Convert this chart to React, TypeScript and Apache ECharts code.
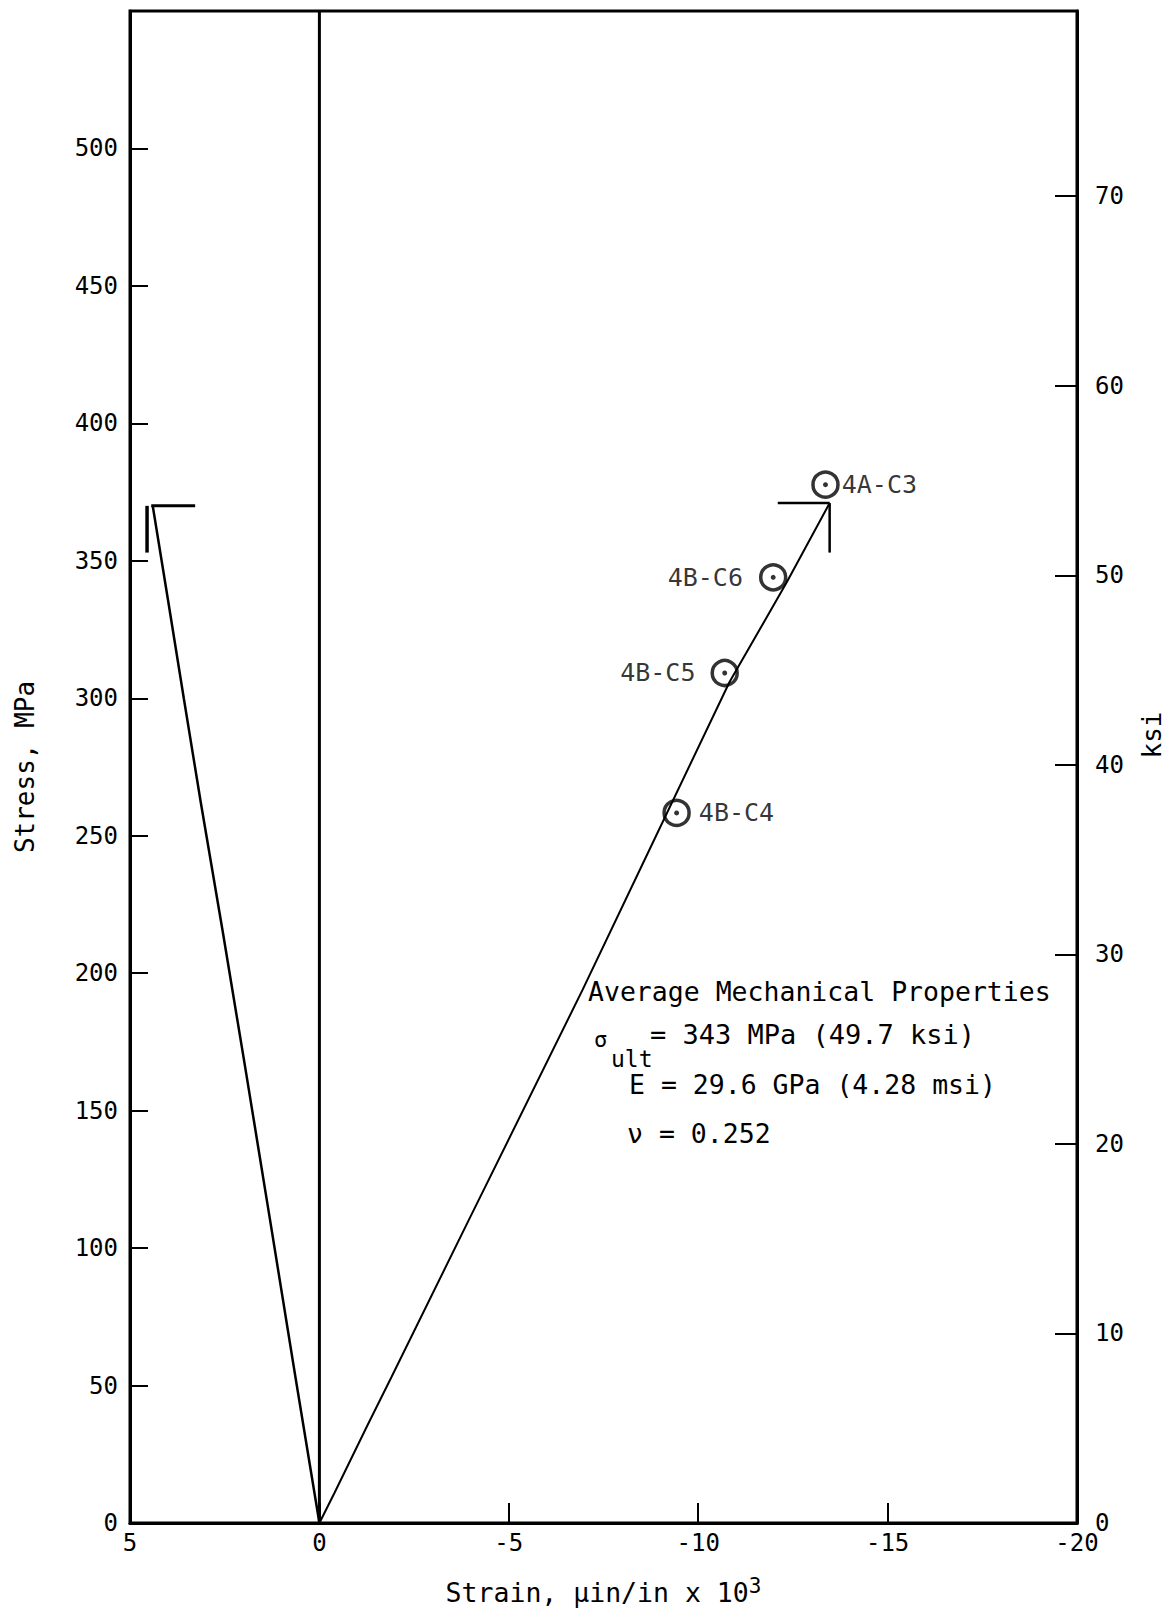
import React, { useEffect, useRef } from "react";
import * as echarts from "echarts";

const FONT = "'DejaVu Sans Mono', monospace";
const MPA_PER_KSI = 6.894757;

// axis ranges
const strainMin = -20;
const strainMax = 5;
const stressMin = 0;
const stressMax = 550;

// transverse strain curve (positive strain)
const transverseStrain = [0, 0.62, 1.3, 1.95, 2.55, 3.13, 3.58, 4.0, 4.4];
const transverseStress = [0, 52, 110, 165, 215, 262, 300, 336, 370];

// longitudinal strain curve (negative strain)
const longitudinalStrain = [0, -0.4, -1.25, -1.9, -3.9, -6.95, -8.75, -10.83, -12.33, -13.47];
const longitudinalStress = [0, 11, 35, 53, 109, 194, 246, 306, 342, 371];

// failure brackets
const leftBracketH = [[4.44, 370], [3.28, 370]];
const leftBracketV = [[4.55, 370], [4.55, 353]];
const rightBracketH = [[-12.1, 371], [-13.47, 371]];
const rightBracketV = [[-13.47, 371], [-13.47, 353]];

// zero-strain reference line
const zeroLine = [[0, stressMin], [0, stressMax]];

// specimen failure points
const specimenNames = ["4A-C3", "4B-C6", "4B-C5", "4B-C4"];
const specimenStrain = [-13.36, -11.98, -10.7, -9.43];
const specimenStress = [377.7, 344, 309.2, 258.3];
const specimenLabelSide = ["right", "left", "left", "right"];
const specimenLabelGap = [2, 16, 15, 8];

function pairs(xs: number[], ys: number[]) {
  return xs.map((x, i) => [x, ys[i]]);
}

export default function App() {
  const ref = useRef<HTMLDivElement>(null);
  useEffect(() => {
    document.body.style.margin = "0";
    const chart = echarts.init(ref.current!, null, { renderer: "svg" });
    const black = "#000";
    const lineSeries = (data: number[][], width: number) => ({
      type: "line",
      data,
      symbol: "none",
      silent: true,
      lineStyle: { color: black, width },
      z: 3,
    });
    const option: any = {
      animation: false,
      backgroundColor: "#fff",
      textStyle: { fontFamily: FONT, color: black },
      grid: {
        left: 130,
        right: 91,
        top: 11,
        bottom: 88,
        show: true,
        borderColor: black,
        borderWidth: 3,
        backgroundColor: "transparent",
      },
      xAxis: {
        type: "value",
        min: strainMin,
        max: strainMax,
        interval: 5,
        inverse: true,
        name: "Strain, µin/in x 10{sup|3}",
        nameLocation: "middle",
        nameGap: 52,
        nameTextStyle: {
          fontFamily: FONT,
          fontSize: 26.5,
          color: black,
          rich: { sup: { fontFamily: FONT, fontSize: 21, color: black, verticalAlign: "top", padding: [0, 0, 14, 0] } },
        },
        axisLine: { show: true, onZero: false, lineStyle: { color: black, width: 3 } },
        axisTick: { show: true, inside: true, length: 20, lineStyle: { color: black, width: 2 } },
        axisLabel: { fontFamily: FONT, fontSize: 24, color: black, margin: 8 },
        splitLine: { show: false },
      },
      yAxis: [
        {
          type: "value",
          min: stressMin,
          max: stressMax,
          interval: 50,
          position: "left",
          name: "Stress, MPa",
          nameLocation: "middle",
          nameGap: 92,
          nameRotate: 90,
          nameTextStyle: { fontFamily: FONT, fontSize: 26, color: black },
          axisLine: { show: true, onZero: false, lineStyle: { color: black, width: 3 } },
          axisTick: { show: true, inside: true, length: 18, lineStyle: { color: black, width: 2 } },
          axisLabel: {
            fontFamily: FONT,
            fontSize: 24,
            color: black,
            margin: 12,
            showMaxLabel: false,
            formatter: (v: number) => (v >= stressMax ? "" : String(v)),
          },
          splitLine: { show: false },
        },
        {
          type: "value",
          min: stressMin / MPA_PER_KSI,
          max: stressMax / MPA_PER_KSI,
          interval: 10,
          position: "right",
          axisLine: { show: true, onZero: false, lineStyle: { color: black, width: 3 } },
          axisTick: { show: true, inside: true, length: 22, lineStyle: { color: black, width: 2 } },
          axisLabel: {
            fontFamily: FONT,
            fontSize: 24,
            color: black,
            margin: 18,
            showMaxLabel: false,
            formatter: (v: number) => (Math.abs(v - Math.round(v / 10) * 10) < 1e-6 ? String(Math.round(v)) : ""),
          },
          splitLine: { show: false },
        },
      ],
      series: [
        lineSeries(zeroLine, 3),
        lineSeries(pairs(transverseStrain, transverseStress), 2.5),
        lineSeries(pairs(longitudinalStrain, longitudinalStress), 2),
        lineSeries(leftBracketH, 3),
        lineSeries(leftBracketV, 3.5),
        lineSeries(rightBracketH, 2.5),
        lineSeries(rightBracketV, 2.5),
        {
          type: "scatter",
          symbol: "circle",
          symbolSize: 25,
          z: 5,
          itemStyle: { color: "rgba(255,255,255,0)", borderColor: black, borderWidth: 3.5 },
          label: {
            show: true,
            formatter: (p: any) => p.name,
            fontFamily: FONT,
            fontSize: 25,
            color: black,
          },
          data: specimenNames.map((n, i) => ({
            name: n,
            value: [specimenStrain[i], specimenStress[i]],
            label: { position: specimenLabelSide[i], distance: specimenLabelGap[i] },
          })),
        },
        {
          type: "scatter",
          symbol: "circle",
          symbolSize: 5,
          z: 6,
          itemStyle: { color: black },
          data: specimenNames.map((n, i) => ({ name: n, value: [specimenStrain[i], specimenStress[i]] })),
        },
      ],
      graphic: [
        {
          type: "text",
          x: 1152,
          y: 735,
          rotation: Math.PI / 2,
          style: { text: "ksi", font: `26px ${FONT}`, fill: black, align: "center", verticalAlign: "middle" },
        },
        {
          type: "text",
          x: 588,
          y: 991,
          style: { text: "Average Mechanical Properties", font: `26.5px ${FONT}`, fill: black, align: "left", verticalAlign: "middle" },
        },
        {
          type: "text",
          x: 594,
          y: 1039,
          style: { text: "σ", font: `22px ${FONT}`, fill: black, align: "left", verticalAlign: "middle" },
        },
        {
          type: "text",
          x: 611,
          y: 1059,
          style: { text: "ult", font: `23px ${FONT}`, fill: black, align: "left", verticalAlign: "middle" },
        },
        {
          type: "text",
          x: 650,
          y: 1034,
          style: { text: "= 343 MPa (49.7 ksi)", font: `27px ${FONT}`, fill: black, align: "left", verticalAlign: "middle" },
        },
        {
          type: "text",
          x: 629,
          y: 1084,
          style: { text: "E = 29.6 GPa (4.28 msi)", font: `26.5px ${FONT}`, fill: black, align: "left", verticalAlign: "middle" },
        },
        {
          type: "text",
          x: 627,
          y: 1133,
          style: { text: "ν = 0.252", font: `26.5px ${FONT}`, fill: black, align: "left", verticalAlign: "middle" },
        },
      ],
    };
    chart.setOption(option);
    return () => chart.dispose();
  }, []);
  return <div ref={ref} style={{ width: 1168, height: 1611 }} />;
}
